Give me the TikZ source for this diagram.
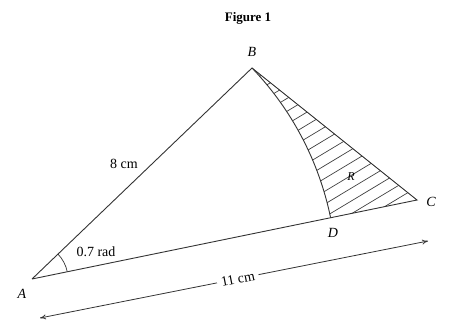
\documentclass[tikz,border=0pt]{standalone}
\usepackage{fontspec}
\setmainfont{Liberation Serif}
\usetikzlibrary{arrows.meta,calc}
\begin{document}
\begin{tikzpicture}[x=1pt,y=1pt,
  edge/.style={draw=black!80,line width=0.9pt},
  hatch/.style={draw=black!75,line width=0.7pt},
  lbl/.style={font=\fontsize{14}{16}\selectfont,inner sep=1pt},
  vlbl/.style={font=\fontsize{14}{16}\selectfont\itshape,inner sep=1pt},
  dimarrow/.style={draw=black!80,line width=0.8pt,{To[length=6pt,width=5pt]}-{To[length=6pt,width=5pt]}}]
\useasboundingbox (0,0) rectangle (449,325);
\coordinate (A) at (32,46);
\coordinate (B) at (252,257);
\coordinate (C) at (417,125);
\coordinate (D) at (330.6,107.3);
\coordinate (E) at (40,7);
\coordinate (F) at (428,84);
% hatching of R
\begin{scope}
  \clip (D) -- (C) -- (B) arc[start angle=43.8,end angle=11.6,radius=304.8] -- cycle;
  \foreach \k in {-25,...,25}
    \draw[hatch,shift={(C)},rotate=31] (-400,\k*11) -- (400,\k*11);
\end{scope}
% triangle and arc
\draw[edge] (A) -- (B) -- (C) -- (A);
\draw[edge] (B) arc[start angle=43.8,end angle=11.6,radius=304.8];
\draw[edge,line width=0.7pt] ($(A)+(11.6:36)$) arc[start angle=11.6,end angle=43.8,radius=36];
% dimension arrow
\draw[dimarrow] (E) -- node[lbl,fill=white,inner sep=4pt,sloped,pos=0.51] (L11) {11 cm} (F);
% labels
\node[font=\fontsize{13}{15}\selectfont\bfseries] (T) at (248,307) {Figure 1};
\node[vlbl] (LB) at (252,273) {B};
\node[vlbl] (LC) at (431,123) {C};
\node[vlbl] (LD) at (333,92) {D};
\node[vlbl] (LA) at (22,31) {A};
\node[vlbl,font=\fontsize{12}{14}\selectfont\itshape] (LR) at (351,148) {R};
\node[lbl] (L8) at (124,161) {8 cm};
\node[lbl] (Lrad) at (96,73) {0.7 rad};
\end{tikzpicture}
\end{document}
